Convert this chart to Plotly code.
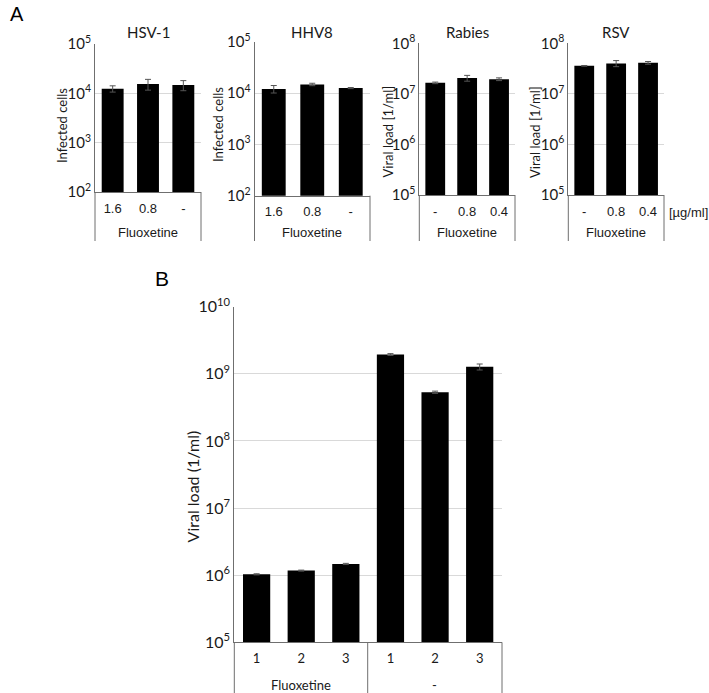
import plotly.graph_objects as go

W, H = 709, 693

# ---------------- data ----------------
a_titles = ["HSV-1", "HHV8", "Rabies", "RSV"]
hsv_cats = ["1.6", "0.8", "-"]
hsv_vals = [1.24e4, 1.54e4, 1.47e4]
hsv_err = [0.18e4, 0.38e4, 0.34e4]

hhv8_cats = ["1.6", "0.8", "-"]
hhv8_vals = [1.20e4, 1.47e4, 1.25e4]
hhv8_err = [0.20e4, 0.08e4, 0.03e4]

rabies_cats = ["-", "0.8", "0.4"]
rabies_vals = [1.65e7, 2.05e7, 1.95e7]
rabies_err = [0.06e7, 0.27e7, 0.12e7]

rsv_cats = ["-", "0.8", "0.4"]
rsv_vals = [3.58e7, 4.00e7, 4.11e7]
rsv_err = [0.06e7, 0.55e7, 0.25e7]

b_ids = ["F1", "F2", "F3", "N1", "N2", "N3"]
b_labels = ["1", "2", "3", "1", "2", "3"]
b_groups = ["Fluoxetine", "-"]
b_vals = [1.03e6, 1.17e6, 1.47e6, 1.94e9, 5.32e8, 1.27e9]
b_err = [0.02e6, 0.02e6, 0.03e6, 0.06e9, 0.02e9, 0.13e9]

a_ytitles = ["Infected cells", "Infected cells", "Viral load [1/ml]", "Viral load [1/ml]"]
a_group = "Fluoxetine"
a_unit = "[µg/ml]"
b_ytitle = "Viral load (1/ml)"

# ---------------- layout helpers ----------------
def px(x):
    return x / W

def py(y):
    return 1 - y / H

GRID = "#d9d9d9"
AX = "#6f6f6f"
TXT = "#1a1a1a"
FONT_A = "Liberation Sans"
FONT_C = "Lato"

def sup_ticks(lo, hi):
    vals = [10 ** e for e in range(lo, hi + 1)]
    txt = ["10<sup>%d</sup>" % e for e in range(lo, hi + 1)]
    return vals, txt

def note(text, x, y, family, size, color=TXT, angle=0, xanchor="center"):
    return dict(text=text, xref="paper", yref="paper", x=px(x), y=py(y),
                xanchor=xanchor, yanchor="middle", showarrow=False, textangle=angle,
                font=dict(family=family, size=size, color=color))

fig = go.Figure()
shapes = []
annotations = []

panels = [
    (hsv_cats, hsv_vals, hsv_err, (95, 201), (44, 192), (2, 5), a_titles[0], a_ytitles[0], 62, 126),
    (hhv8_cats, hhv8_vals, hhv8_err, (254.5, 370), (41.7, 195.7), (2, 5), a_titles[1], a_ytitles[1], 218, 125),
    (rabies_cats, rabies_vals, rabies_err, (419.3, 515), (43.3, 195), (5, 8), a_titles[2], a_ytitles[2], 387.5, 132),
    (rsv_cats, rsv_vals, rsv_err, (568.3, 664), (43.3, 195), (5, 8), a_titles[3], a_ytitles[3], 535, 132),
]

for i, (cats, vals, err, (x0, x1), (yt, yb), yr, title, ytitle, tx, ty) in enumerate(panels):
    n = i + 1
    xa = "x" if n == 1 else "x%d" % n
    ya = "y" if n == 1 else "y%d" % n
    fig.add_trace(go.Bar(
        x=cats, y=vals, xaxis=xa, yaxis=ya, width=0.62,
        marker=dict(color="black", line=dict(width=0)),
        error_y=dict(type="data", array=err, visible=True, color="#555555", thickness=1, width=3),
        showlegend=False,
    ))
    tv, tt = sup_ticks(yr[0], yr[1])
    key = "" if n == 1 else str(n)
    fig.layout["xaxis" + key] = dict(
        domain=[px(x0), px(x1)], anchor=ya, type="category",
        range=[-0.5, 2.5], showgrid=False, zeroline=False,
        showline=True, linecolor=AX, linewidth=1,
        ticks="outside", ticklen=4, tickcolor="rgba(0,0,0,0)",
        tickfont=dict(family=FONT_A, size=13, color=TXT),
    )
    fig.layout["yaxis" + key] = dict(
        domain=[py(yb), py(yt)], anchor=xa, type="log",
        range=list(yr), showgrid=True, gridcolor=GRID, gridwidth=1,
        zeroline=False, showline=True, linecolor=AX, linewidth=1,
        tickvals=tv, ticktext=tt, ticks="",
        tickfont=dict(family=FONT_C, size=15, color=TXT),
    )
    for xx in (x0, x1):
        shapes.append(dict(type="line", xref="paper", yref="paper",
                           x0=px(xx), x1=px(xx), y0=py(yb), y1=py(241),
                           line=dict(color=AX, width=1)))
    annotations.append(note(a_group, (x0 + x1) / 2, 233, FONT_A, 13))
    annotations.append(note(title, (x0 + x1) / 2, 32, FONT_C, 15))
    annotations.append(note(ytitle, tx, ty, FONT_C, 13, angle=-90))

annotations.append(note(a_unit, 667, 212, FONT_A, 13, xanchor="left"))
annotations.append(note("A", 16.5, 14, FONT_A, 20, color="black"))
annotations.append(note("B", 161.5, 278, FONT_A, 21, color="black"))

# ---------------- panel B ----------------
bx0, bmid, bx1, byt, byb = 234.3, 367.7, 502, 306.7, 642.3
fig.add_trace(go.Bar(
    x=b_ids, y=b_vals, xaxis="x5", yaxis="y5", width=0.61,
    marker=dict(color="black", line=dict(width=0)),
    error_y=dict(type="data", array=b_err, visible=True, color="#555555", thickness=1, width=3),
    showlegend=False,
))
tv, tt = sup_ticks(5, 10)
fig.layout["xaxis5"] = dict(
    domain=[px(bx0), px(bx1)], anchor="y5", type="category",
    range=[-0.5, 5.5], showgrid=False, zeroline=False,
    showline=True, linecolor=AX, linewidth=1,
    tickvals=b_ids, ticktext=b_labels,
    ticks="outside", ticklen=4, tickcolor="rgba(0,0,0,0)",
    tickfont=dict(family=FONT_C, size=13, color=TXT),
)
fig.layout["yaxis5"] = dict(
    domain=[py(byb), py(byt)], anchor="x5", type="log",
    range=[5, 10], showgrid=True, gridcolor=GRID, gridwidth=1,
    zeroline=False, showline=True, linecolor=AX, linewidth=1,
    tickvals=tv, ticktext=tt, ticks="",
    tickfont=dict(family=FONT_C, size=16, color=TXT),
)
for xx in (bx0, bmid, bx1):
    shapes.append(dict(type="line", xref="paper", yref="paper",
                       x0=px(xx), x1=px(xx), y0=py(byb), y1=0,
                       line=dict(color=AX, width=1)))
annotations.append(note(b_groups[0], (bx0 + bmid) / 2, 684.5, FONT_C, 13))
annotations.append(note(b_groups[1], (bmid + bx1) / 2, 684.5, FONT_C, 13))
annotations.append(note(b_ytitle, 192.7, 486.7, FONT_C, 16, angle=-90))

fig.update_layout(
    width=W, height=H, margin=dict(l=0, r=0, t=0, b=0, autoexpand=False),
    paper_bgcolor="white", plot_bgcolor="white",
    shapes=shapes, annotations=annotations,
)
fig.write_html(
    "out.html",
    config={"displayModeBar": False},
    post_script="document.body.style.margin='0';document.body.style.overflow='hidden';",
)
